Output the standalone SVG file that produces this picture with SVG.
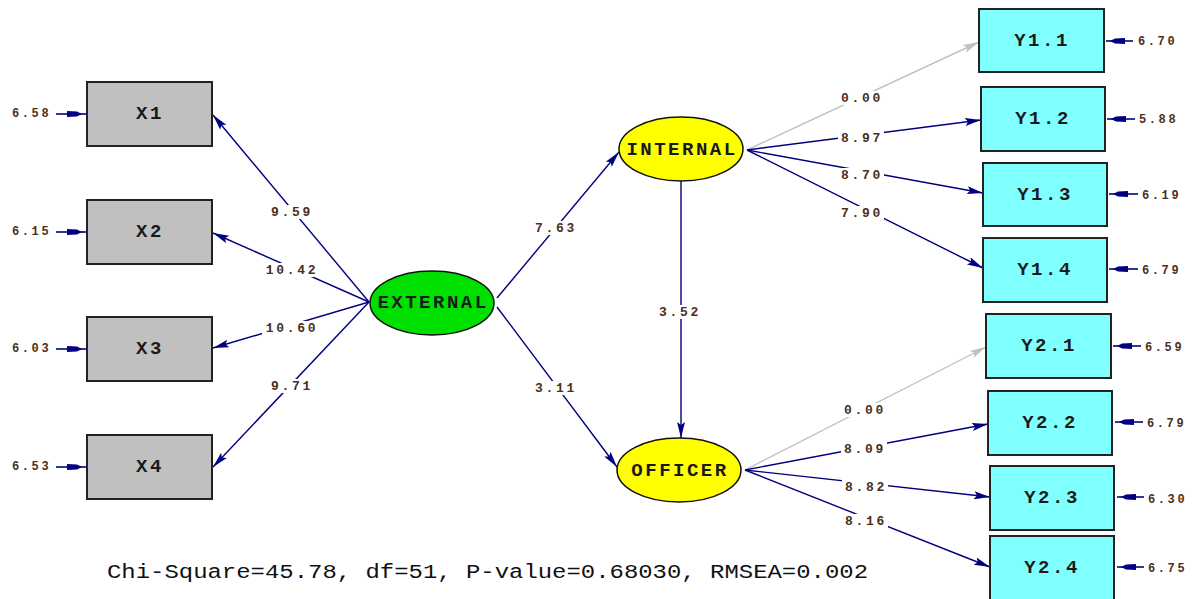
<svg xmlns="http://www.w3.org/2000/svg" width="1198" height="599" viewBox="0 0 1198 599">
<style>
.obsx{fill:#c0c0c0;stroke:#222;stroke-width:2}
.obsy{fill:#80ffff;stroke:#222;stroke-width:2}
.lat{stroke:#111;stroke-width:1.5}
.nl{font-family:"Liberation Mono",monospace;font-weight:bold;font-size:19px;letter-spacing:2.5px;fill:#1a1a1a;text-anchor:middle;dominant-baseline:central}
.el{font-family:"Liberation Mono",monospace;font-weight:bold;font-size:13px;letter-spacing:2.7px;fill:#4a3020;text-anchor:middle;dominant-baseline:central}
.bg{fill:#fff}
.er{font-family:"Liberation Mono",monospace;font-weight:bold;font-size:12px;letter-spacing:2.6px;fill:#4a3020;dominant-baseline:central}
.c{stroke:#000080;stroke-width:1.4;fill:none;marker-end:url(#ah)}
.g{stroke:#c0c0c0;stroke-width:1.4;fill:none;marker-end:url(#ahg)}
.e{stroke:#000080;stroke-width:1.6}
.eh{fill:#000080}
</style>
<defs>
<marker id="ah" markerUnits="userSpaceOnUse" markerWidth="18" markerHeight="10" refX="16" refY="4" orient="auto">
<path d="M0,0 L16,4 L0,8 L3,4 z" fill="#000080"/>
</marker>
<marker id="ahg" markerUnits="userSpaceOnUse" markerWidth="18" markerHeight="10" refX="16" refY="4" orient="auto">
<path d="M0,0 L16,4 L0,8 L3,4 z" fill="#c0c0c0"/>
</marker>
<path id="eh" d="M-15,-3 L-5,-2.5 L0,0 L-5,2.5 L-15,3 z"/>
<rect id="b4" class="bg" x="-23" y="-7" width="46" height="14"/>
<rect id="b5" class="bg" x="-29" y="-7" width="58" height="14"/>
</defs>

<g id="connectors">
<line class="c" x1="369" y1="302" x2="213" y2="115"/>
<line class="c" x1="369" y1="302" x2="213" y2="233"/>
<line class="c" x1="369" y1="302" x2="213" y2="348"/>
<line class="c" x1="369" y1="302" x2="213" y2="467"/>
<line class="c" x1="497" y1="298" x2="619" y2="152"/>
<line class="c" x1="497" y1="307" x2="617" y2="467"/>
<line class="c" x1="681" y1="181" x2="681" y2="438"/>
<line class="g" x1="747" y1="150" x2="979" y2="42"/>
<line class="c" x1="747" y1="150" x2="981" y2="120"/>
<line class="c" x1="747" y1="150" x2="983" y2="193"/>
<line class="c" x1="747" y1="150" x2="983" y2="268"/>
<line class="g" x1="745" y1="470" x2="986" y2="347"/>
<line class="c" x1="745" y1="470" x2="988" y2="424"/>
<line class="c" x1="745" y1="470" x2="990" y2="497"/>
<line class="c" x1="745" y1="470" x2="990" y2="567"/>
<use href="#b4" x="291" y="212"/><text class="el" x="292" y="212">9.59</text>
<use href="#b5" x="291" y="270"/><text class="el" x="292" y="270">10.42</text>
<use href="#b5" x="291" y="328"/><text class="el" x="292" y="328">10.60</text>
<use href="#b4" x="291" y="386"/><text class="el" x="292" y="386">9.71</text>
<use href="#b4" x="555" y="228"/><text class="el" x="556" y="228">7.63</text>
<use href="#b4" x="555" y="388"/><text class="el" x="556" y="388">3.11</text>
<use href="#b4" x="679" y="312"/><text class="el" x="680" y="312">3.52</text>
<use href="#b4" x="861" y="98"/><text class="el" x="862" y="98">0.00</text>
<use href="#b4" x="861" y="138"/><text class="el" x="862" y="138">8.97</text>
<use href="#b4" x="861" y="175"/><text class="el" x="862" y="175">8.70</text>
<use href="#b4" x="861" y="213"/><text class="el" x="862" y="213">7.90</text>
<use href="#b4" x="864" y="410"/><text class="el" x="865" y="410">0.00</text>
<use href="#b4" x="864" y="449"/><text class="el" x="865" y="449">8.09</text>
<use href="#b4" x="865" y="487"/><text class="el" x="866" y="487">8.82</text>
<use href="#b4" x="865" y="521"/><text class="el" x="866" y="521">8.16</text>
</g>

<g id="X1">
<rect class="obsx" x="87" y="82" width="125" height="64"/>
<text class="nl" x="150" y="114">X1</text>
<line class="e" x1="56" y1="114" x2="87" y2="114"/><use href="#eh" class="eh" x="82" y="114"/>
<text class="er" x="12" y="114">6.58</text>
</g>
<g id="X2">
<rect class="obsx" x="87" y="200" width="125" height="64"/>
<text class="nl" x="150" y="232">X2</text>
<line class="e" x1="56" y1="232" x2="87" y2="232"/><use href="#eh" class="eh" x="82" y="232"/>
<text class="er" x="12" y="232">6.15</text>
</g>
<g id="X3">
<rect class="obsx" x="87" y="317" width="125" height="64"/>
<text class="nl" x="150" y="349">X3</text>
<line class="e" x1="56" y1="349" x2="87" y2="349"/><use href="#eh" class="eh" x="82" y="349"/>
<text class="er" x="12" y="349">6.03</text>
</g>
<g id="X4">
<rect class="obsx" x="87" y="435" width="125" height="64"/>
<text class="nl" x="150" y="467">X4</text>
<line class="e" x1="56" y1="467" x2="87" y2="467"/><use href="#eh" class="eh" x="82" y="467"/>
<text class="er" x="12" y="467">6.53</text>
</g>

<g id="EXTERNAL">
<ellipse class="lat" cx="432" cy="303" rx="62" ry="32" fill="#00e000"/>
<text class="nl" x="433" y="303">EXTERNAL</text>
</g>
<g id="INTERNAL">
<ellipse class="lat" cx="681" cy="149" rx="62" ry="32" fill="#ffff00"/>
<text class="nl" x="682" y="150">INTERNAL</text>
</g>
<g id="OFFICER">
<ellipse class="lat" cx="679" cy="470" rx="62" ry="32" fill="#ffff00"/>
<text class="nl" x="680" y="471">OFFICER</text>
</g>

<g id="Y1.1">
<rect class="obsy" x="979" y="9" width="125" height="63"/>
<text class="nl" x="1042" y="41">Y1.1</text>
<line class="e" x1="1106" y1="41" x2="1133" y2="41"/><use href="#eh" class="eh" transform="translate(1110,41) rotate(180)"/>
<text class="er" x="1138" y="42">6.70</text>
</g>
<g id="Y1.2">
<rect class="obsy" x="981" y="87" width="124" height="64"/>
<text class="nl" x="1043" y="119">Y1.2</text>
<line class="e" x1="1107" y1="119" x2="1135" y2="119"/><use href="#eh" class="eh" transform="translate(1111,119) rotate(180)"/>
<text class="er" x="1139" y="120">5.88</text>
</g>
<g id="Y1.3">
<rect class="obsy" x="983" y="163" width="124" height="63"/>
<text class="nl" x="1045" y="195">Y1.3</text>
<line class="e" x1="1109" y1="194" x2="1138" y2="194"/><use href="#eh" class="eh" transform="translate(1113,194) rotate(180)"/>
<text class="er" x="1142" y="196">6.19</text>
</g>
<g id="Y1.4">
<rect class="obsy" x="983" y="238" width="124" height="64"/>
<text class="nl" x="1045" y="270">Y1.4</text>
<line class="e" x1="1109" y1="269" x2="1138" y2="269"/><use href="#eh" class="eh" transform="translate(1113,269) rotate(180)"/>
<text class="er" x="1142" y="271">6.79</text>
</g>
<g id="Y2.1">
<rect class="obsy" x="986" y="314" width="125" height="64"/>
<text class="nl" x="1049" y="346">Y2.1</text>
<line class="e" x1="1113" y1="346" x2="1141" y2="346"/><use href="#eh" class="eh" transform="translate(1117,346) rotate(180)"/>
<text class="er" x="1145" y="348">6.59</text>
</g>
<g id="Y2.2">
<rect class="obsy" x="988" y="391" width="124" height="64"/>
<text class="nl" x="1050" y="423">Y2.2</text>
<line class="e" x1="1115" y1="422" x2="1143" y2="422"/><use href="#eh" class="eh" transform="translate(1119,422) rotate(180)"/>
<text class="er" x="1147" y="424">6.79</text>
</g>
<g id="Y2.3">
<rect class="obsy" x="990" y="466" width="124" height="64"/>
<text class="nl" x="1052" y="498">Y2.3</text>
<line class="e" x1="1117" y1="497" x2="1144" y2="497"/><use href="#eh" class="eh" transform="translate(1121,497) rotate(180)"/>
<text class="er" x="1148" y="500">6.30</text>
</g>
<g id="Y2.4">
<rect class="obsy" x="990" y="536" width="124" height="66"/>
<text class="nl" x="1052" y="568">Y2.4</text>
<line class="e" x1="1117" y1="567" x2="1144" y2="567"/><use href="#eh" class="eh" transform="translate(1121,567) rotate(180)"/>
<text class="er" x="1148" y="569">6.75</text>
</g>

<text x="107" y="578" font-family="Liberation Mono, monospace" font-size="20" fill="#111" textLength="761" lengthAdjust="spacingAndGlyphs">Chi-Square=45.78, df=51, P-value=0.68030, RMSEA=0.002</text>
</svg>
